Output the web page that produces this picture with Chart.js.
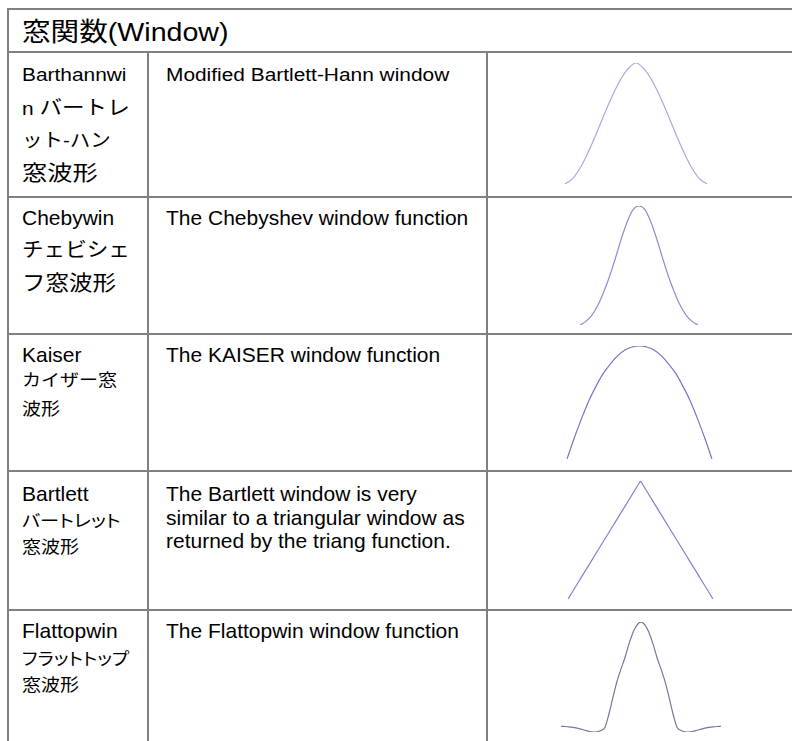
<!DOCTYPE html>
<html>
<head>
<meta charset="utf-8">
<script src="https://cdn.jsdelivr.net/npm/chart.js@4.4.0/dist/chart.umd.min.js"></script>
<style>
    html, body { margin: 0; padding: 0; background: #fff; }
    body { width: 792px; height: 741px; position: relative; overflow: hidden; }
    #table { position: absolute; left: 0; top: 0; }
    #table text { font-family: "Liberation Sans", Arial, "Noto Sans CJK JP", sans-serif; fill: #000; }
    #table .jp { font-family: "Noto Sans CJK JP", sans-serif; }
    #table .palt { font-feature-settings: "palt"; }
    canvas { position: absolute; }
</style>
</head>
<body>
<svg id="table" width="792" height="741" xmlns="http://www.w3.org/2000/svg">
    <g fill="#808080">
        <rect x="7" y="8" width="785" height="2"/>
        <rect x="7" y="51" width="785" height="2"/>
        <rect x="7" y="196" width="785" height="2"/>
        <rect x="7" y="333" width="785" height="2"/>
        <rect x="7" y="470" width="785" height="2"/>
        <rect x="7" y="609" width="785" height="2"/>
        <rect x="7" y="8" width="2" height="733"/>
        <rect x="147" y="52" width="2" height="689"/>
        <rect x="486" y="52" width="2" height="689"/>
    </g>

    <text transform="translate(22,41) scale(1.1 1)" font-size="26">窓関数(Window)</text>

    <text transform="translate(22,81) scale(1.13 1)" font-size="18.5">Barthannwi</text>
    <text transform="translate(22,115) scale(1.13 1)" font-size="18.5">n <tspan class="jp" font-size="20">バートレ</tspan></text>
    <text transform="translate(22,147) scale(1.08 1)" font-size="19"><tspan class="jp">ット</tspan>-<tspan class="jp">ハン</tspan></text>
    <text transform="translate(22,180) scale(1.2 1)" class="jp" font-size="21">窓波形</text>
    <text transform="translate(166,81) scale(1.13 1)" font-size="18.5">Modified Bartlett-Hann window</text>

    <text transform="translate(22,225) scale(1.05 1)" font-size="20">Chebywin</text>
    <text transform="translate(22,257) scale(1.08 1)" class="jp" font-size="20">チェビシェ</text>
    <text transform="translate(22,290) scale(1.12 1)" class="jp" font-size="21">フ窓波形</text>
    <text transform="translate(166,225) scale(1.05 1)" font-size="20">The Chebyshev window function</text>

    <text transform="translate(22,362) scale(1.05 1)" font-size="20">Kaiser</text>
    <text transform="translate(22,386) scale(1.12 1)" class="jp" font-size="17">カイザー窓</text>
    <text transform="translate(22,415) scale(1.12 1)" class="jp" font-size="17">波形</text>
    <text transform="translate(166,362) scale(1.05 1)" font-size="20">The KAISER window function</text>

    <text transform="translate(22,501) scale(1.05 1)" font-size="20">Bartlett</text>
    <text transform="translate(22,527) scale(1.13 1)" class="jp palt" font-size="17">バートレット</text>
    <text transform="translate(22,553) scale(1.12 1)" class="jp" font-size="17">窓波形</text>
    <text transform="translate(166,501) scale(1.05 1)" font-size="20">The Bartlett window is very</text>
    <text transform="translate(166,524.5) scale(1.05 1)" font-size="20">similar to a triangular window as</text>
    <text transform="translate(166,548) scale(1.05 1)" font-size="20">returned by the triang function.</text>

    <text transform="translate(22,638) scale(1.05 1)" font-size="20">Flattopwin</text>
    <text transform="translate(22,665) scale(1.1 1)" class="jp palt" font-size="17">フラットトップ</text>
    <text transform="translate(22,691) scale(1.12 1)" class="jp" font-size="17">窓波形</text>
    <text transform="translate(166,638) scale(1.05 1)" font-size="20">The Flattopwin window function</text>
</svg>
<script>
// window shapes (peak = 1)
const barthannwin = [0, 0.04, 0.12, 0.23, 0.36, 0.50, 0.64, 0.77, 0.88, 0.96, 1.00,
    0.96, 0.88, 0.77, 0.64, 0.50, 0.36, 0.23, 0.12, 0.04, 0];
const chebwin = [0.02, 0.05, 0.10, 0.18, 0.29, 0.42, 0.57, 0.73, 0.87, 0.97, 1.00,
    0.97, 0.87, 0.73, 0.57, 0.42, 0.29, 0.18, 0.10, 0.05, 0.02];
const kaiser = [0.30, 0.43, 0.55, 0.66, 0.75, 0.83, 0.89, 0.94, 0.975, 0.994, 1.00,
    0.994, 0.975, 0.94, 0.89, 0.83, 0.75, 0.66, 0.55, 0.43, 0.30];
const bartlett = [0, 0.1, 0.2, 0.3, 0.4, 0.5, 0.6, 0.7, 0.8, 0.9, 1.0,
    0.9, 0.8, 0.7, 0.6, 0.5, 0.4, 0.3, 0.2, 0.1, 0];
const flattop = [0, -0.002, -0.005, -0.01, -0.018, -0.028, -0.038, -0.048, -0.055, -0.053,
    -0.04, -0.01, 0.12, 0.28, 0.43, 0.55, 0.66, 0.79, 0.90, 0.97, 1.00,
    0.97, 0.90, 0.79, 0.66, 0.55, 0.43, 0.28, 0.12, -0.01, -0.04,
    -0.053, -0.055, -0.048, -0.038, -0.028, -0.018, -0.01, -0.005, -0.002, 0];

const pad = 3;

// box = where the curve sits in the picture
const panels = [
    { values: barthannwin, color: "#a8a8dc", box: [565, 63, 707, 184], smooth: true },
    { values: chebwin,     color: "#8c8cd2", box: [580, 206, 698, 325], smooth: true },
    { values: kaiser,      color: "#7676c8", box: [567, 346, 712, 459], smooth: true },
    { values: bartlett,    color: "#8080d4", box: [568, 481, 713, 599], smooth: false },
    { values: flattop,     color: "#76769c", box: [561, 622, 721, 732], smooth: true }
];

panels.forEach(p => {
    const [x0, y0, x1, y1] = p.box;
    const canvas = document.createElement("canvas");
    canvas.width = x1 - x0 + pad * 2;
    canvas.height = y1 - y0 + pad * 2;
    canvas.style.left = (x0 - pad) + "px";
    canvas.style.top = (y0 - pad) + "px";
    document.body.appendChild(canvas);

    new Chart(canvas, {
        type: "line",
        data: {
            labels: p.values.map((_, i) => i),
            datasets: [{
                data: p.values,
                borderColor: p.color,
                borderWidth: 1.2,
                pointRadius: 0,
                fill: false,
                cubicInterpolationMode: p.smooth ? "monotone" : "default",
                tension: 0
            }]
        },
        options: {
            responsive: false,
            animation: false,
            devicePixelRatio: 1,
            events: [],
            layout: { padding: pad },
            plugins: { legend: { display: false }, tooltip: { enabled: false } },
            scales: {
                x: { display: false },
                y: { display: false, min: Math.min(...p.values), max: Math.max(...p.values) }
            }
        }
    });
});
</script>
</body>
</html>
